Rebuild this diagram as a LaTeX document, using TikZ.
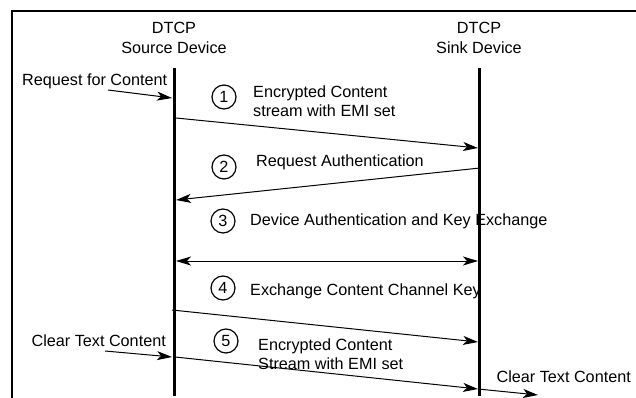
\documentclass[tikz,border=0pt]{standalone}
\usepackage{fontspec}
\setmainfont{Liberation Sans}
\usetikzlibrary{arrows.meta}
\begin{document}
\begin{tikzpicture}[>={Stealth[length=15pt, width=9pt, inset=4pt]}, x=1pt, y=-1pt, font=\fontsize{16.2}{19.5}\selectfont]
	\tikzset{
		lifeline/.style={line width=3pt},
		msg/.style={->, line width=1pt},
		num/.style={circle, draw, line width=1.2pt, minimum size=24pt, inner sep=0pt},
		lbl/.style={align=left, anchor=west, inner sep=0pt}
	}
	\useasboundingbox (0,0) rectangle (636,398);
	% Frame
	\draw[line width=2pt] (12,398) -- (12,11) -- (636,11);
	
	% Devices
	\node[align=center] (src) at (174,38) {DTCP\\Source Device};
	\node[align=center] (snk) at (479,38) {DTCP\\Sink Device};
	\coordinate (srctop) at (174,68);
	\coordinate (srcbot) at (174,396);
	\coordinate (snktop) at (479,68);
	\coordinate (snkbot) at (479,396);
	\draw[lifeline] (srctop) -- (srcbot);
	\draw[lifeline] (snktop) -- (snkbot);
	
	% Outside inputs and output
	\node[inner sep=0pt, anchor=west] (req) at (22,81) {Request for Content};
	\coordinate (reqs) at (108,90);
	\coordinate (reqe) at (172,98);
	\draw[msg] (reqs) -- (reqe);
	\node[inner sep=0pt, anchor=east] (clrin) at (166,341) {Clear Text Content};
	\coordinate (clrs) at (105,351);
	\coordinate (clre) at (172,357);
	\draw[msg] (clrs) -- (clre);
	\node[inner sep=0pt, anchor=east] (clrout) at (631,377) {Clear Text Content};
	
	% Messages
	\coordinate (m1s) at (176,118);
	\coordinate (m1e) at (478,148);
	\coordinate (m2s) at (480,168);
	\coordinate (m2e) at (176,200);
	\coordinate (m3s) at (176,261);
	\coordinate (m3e) at (478,261);
	\coordinate (m4s) at (172,310);
	\coordinate (m4e) at (478,342);
	\coordinate (m5s) at (175,357);
	\coordinate (m5e) at (478,389);
	\coordinate (m5o) at (538,395);
	\draw[msg] (m1s) -- (m1e);
	\draw[msg] (m2s) -- (m2e);
	\draw[msg, <->] (m3s) -- (m3e);
	\draw[msg] (m4s) -- (m4e);
	\draw[msg] (m5s) -- (m5e);
	\draw[msg] (m5e) -- (m5o);
	
	% Steps
	\node[num] (n1) at (224,97) {\raisebox{-2pt}{1}};
	\node[num] (n2) at (224,167) {\raisebox{-2pt}{2}};
	\node[num] (n3) at (223,221) {\raisebox{-2pt}{3}};
	\node[num] (n4) at (223,288) {\raisebox{-2pt}{4}};
	\node[num] (n5) at (226,341) {\raisebox{-2pt}{5}};
	\node[lbl] (t1) at (253,101) {Encrypted Content\\stream with EMI set};
	\node[lbl] (t2) at (256,162) {Request Authentication};
	\node[lbl] (t3) at (250,221) {Device Authentication and Key Exchange};
	\node[lbl] (t4) at (250,291) {Exchange Content Channel Key};
	\node[lbl] (t5) at (258,354) {Encrypted Content\\Stream with EMI set};
\end{tikzpicture}
\end{document}
